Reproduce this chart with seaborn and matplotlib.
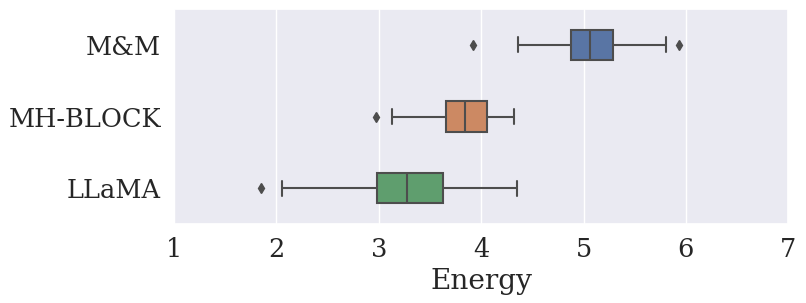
import seaborn as sns
import matplotlib.pyplot as plt
import pandas as pd

models = ["M&M", "MH-BLOCK", "LLaMA"]
mm_energy = [3.92, 4.36, 4.88, 4.97, 5.06, 5.18, 5.29, 5.81, 5.93]
mhblock_energy = [2.97, 3.13, 3.66, 3.75, 3.84, 3.95, 4.06, 4.20, 4.32]
llama_energy = [1.85, 2.05, 2.98, 3.15, 3.28, 3.45, 3.63, 4.00, 4.35]
x_ticks = [1, 2, 3, 4, 5, 6, 7]

df = pd.DataFrame({
    "Model": [models[0]] * len(mm_energy) + [models[1]] * len(mhblock_energy)
             + [models[2]] * len(llama_energy),
    "Energy": mm_energy + mhblock_energy + llama_energy,
})

sns.set_theme(style="darkgrid", font_scale=1.68)
plt.rcParams["font.family"] = ["DejaVu Serif"]

fig, ax = plt.subplots(figsize=(8.06, 3.03), dpi=100)
sns.boxplot(data=df, x="Energy", y="Model", hue="Model", order=models,
            palette="deep", width=0.42, linewidth=1.5, linecolor="0.3",
            flierprops={"marker": "d", "markerfacecolor": "0.3",
                        "markeredgecolor": "0.3", "markersize": 5},
            legend=False, ax=ax)
ax.set_xlim(1, 7)
ax.set_xticks(x_ticks)
ax.set_ylabel("")
ax.set_xlabel("Energy")
fig.subplots_adjust(left=0.216, right=0.978, top=0.970, bottom=0.261)
fig.savefig("out.png")
plt.close(fig)
